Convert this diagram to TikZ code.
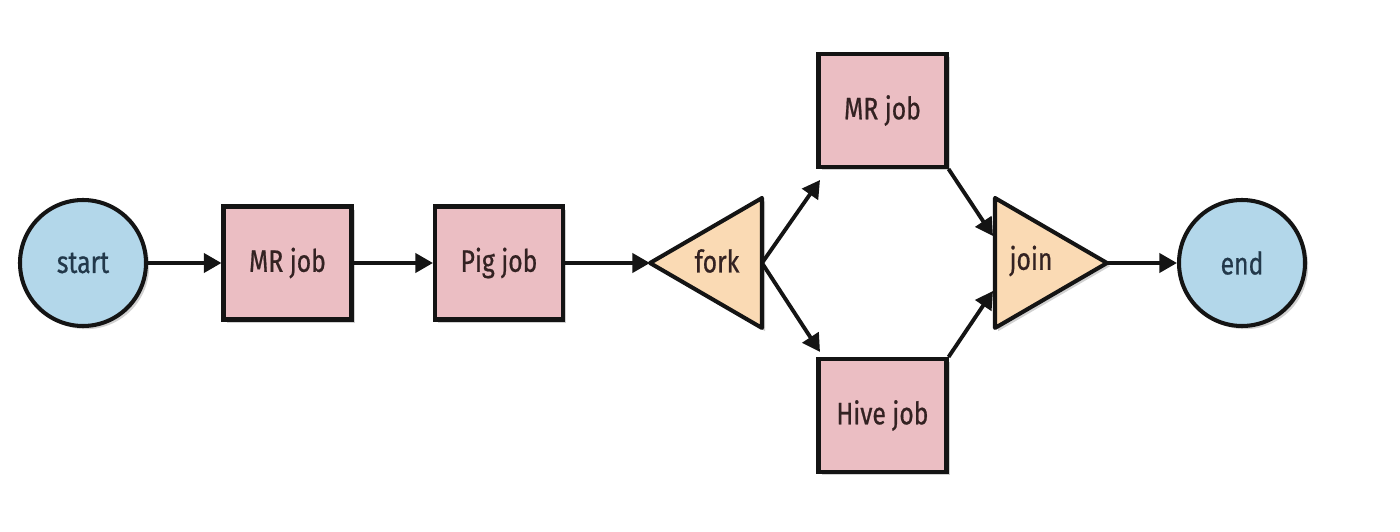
\documentclass[tikz,border=0pt]{standalone}
\usepackage{fontspec}
\newfontfamily\lblfont[FakeStretch=0.8,FakeBold=0.6]{Fira Sans}
\usetikzlibrary{arrows.meta,shadows}
\definecolor{cblue}{HTML}{B3D7EA}
\definecolor{cpink}{HTML}{EBBEC3}
\definecolor{cpeach}{HTML}{FADAB4}
\definecolor{tblue}{HTML}{22384A}
\definecolor{tbrown}{HTML}{332222}
\definecolor{edge}{HTML}{141414}
\tikzset{
  shd/.style={drop shadow={shadow xshift=0.9pt,shadow yshift=-0.9pt,fill=black,opacity=0.18}},
  circ/.style={circle,draw=edge,line width=1.15pt,fill=cblue,minimum size=1.26cm,inner sep=0pt,
    font=\lblfont\fontsize{8.8}{10}\selectfont,text=tblue,shd},
  job/.style={rectangle,draw=edge,line width=1.15pt,fill=cpink,minimum width=1.28cm,minimum height=1.13cm,
    inner sep=0pt,font=\lblfont\fontsize{8.8}{10}\selectfont,text=tbrown,shd},
  tri/.style={draw=edge,line width=1.15pt,fill=cpeach,line join=round,shd},
  lbl/.style={font=\lblfont\fontsize{8.8}{10}\selectfont,text=tbrown,inner sep=0pt},
  arr/.style={-{Triangle[length=5pt,width=5.4pt]},line width=1.1pt,draw=edge}
}
\begin{document}
\begin{tikzpicture}
\useasboundingbox (0,0) rectangle (14,5.31);
% nodes
\node[circ] (start) at (0.83,2.68) {start};
\node[job] (mr1) at (2.875,2.68) {MR job};
\node[job] (pig) at (4.99,2.68) {Pig job};
\node[job] (mr2) at (8.825,4.205) {MR job};
\node[job] (hive) at (8.825,1.155) {Hive job};
\node[circ] (end) at (12.42,2.68) {end};
% fork triangle
\coordinate (forkL) at (6.50,2.68);
\coordinate (forkT) at (7.62,3.33);
\coordinate (forkB) at (7.62,2.03);
\coordinate (forkR) at (7.62,2.68);
\path[tri] (forkL) -- (forkT) -- (forkB) -- cycle;
\node[lbl] (forklbl) at (7.17,2.70) {fork};
% join triangle
\coordinate (joinT) at (9.95,3.33);
\coordinate (joinB) at (9.95,2.03);
\coordinate (joinR) at (11.07,2.68);
\coordinate (joinUp) at (9.93,2.95);
\coordinate (joinLo) at (9.93,2.40);
\path[tri] (joinT) -- (joinR) -- (joinB) -- cycle;
\node[lbl] (joinlbl) at (10.31,2.70) {join};
% arrow tips near the parallel jobs
\coordinate (mr2in) at (8.20,3.51);
\coordinate (hivein) at (8.20,1.79);
% connectors
\draw[arr] (start) -- (mr1);
\draw[arr] (mr1) -- (pig);
\draw[arr] (pig) -- (forkL);
\draw[arr] (forkR) -- (mr2in);
\draw[arr] (forkR) -- (hivein);
\draw[arr] (mr2.south east) -- (joinUp);
\draw[arr] (hive.north east) -- (joinLo);
\draw[arr] (joinR) -- (end);
\end{tikzpicture}
\end{document}
